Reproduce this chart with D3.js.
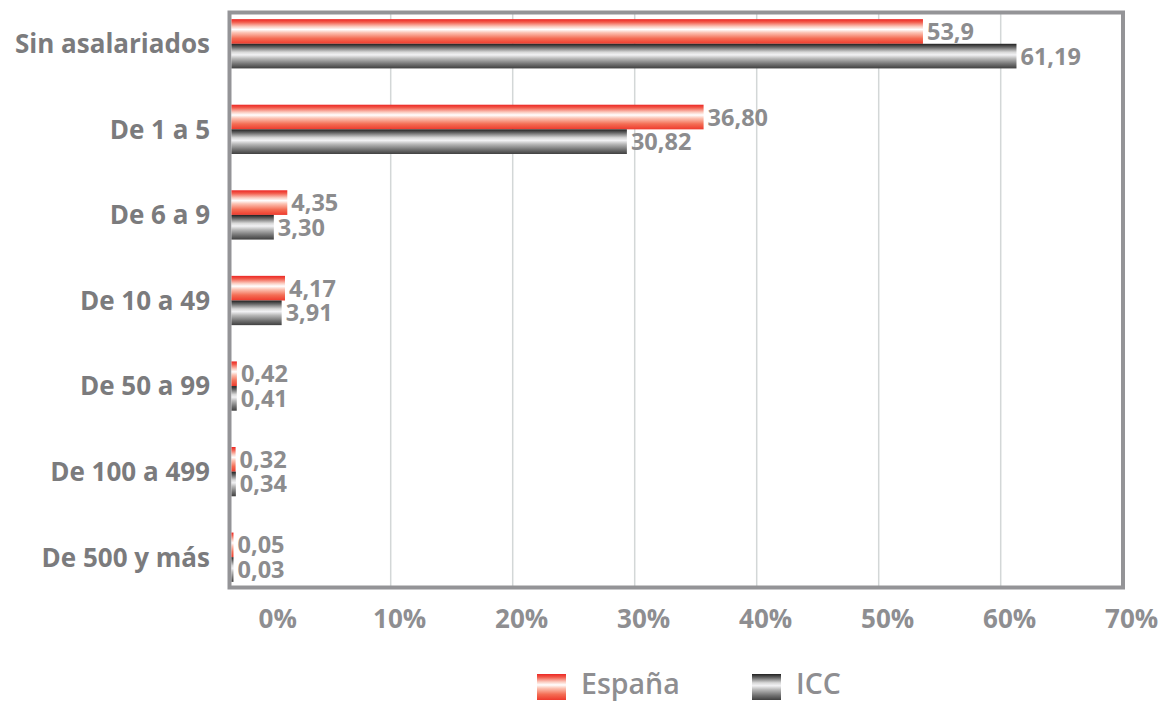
<!DOCTYPE html>
<html>
<head>
<meta charset="utf-8">
<script src="https://cdn.jsdelivr.net/npm/d3@7"></script>
<style>
  html, body { margin: 0; padding: 0; background: #ffffff; }
  svg { display: block; }
</style>
</head>
<body>
<svg id="chart" width="1175" height="703"></svg>
<script>
// ---------- data ----------
const categories = ["Sin asalariados", "De 1 a 5", "De 6 a 9", "De 10 a 49", "De 50 a 99", "De 100 a 499", "De 500 y más"];
const seriesNames = ["España", "ICC"];
const espana = [53.9, 36.80, 4.35, 4.17, 0.42, 0.32, 0.05];
const icc = [61.19, 30.82, 3.30, 3.91, 0.41, 0.34, 0.03];
const espanaLabels = ["53,9", "36,80", "4,35", "4,17", "0,42", "0,32", "0,05"];
const iccLabels = ["61,19", "30,82", "3,30", "3,91", "0,41", "0,34", "0,03"];
const tickValues = [0, 10, 20, 30, 40, 50, 60, 70];
const tickLabels = ["0%", "10%", "20%", "30%", "40%", "50%", "60%", "70%"];

// ---------- layout ----------
const svg = d3.select("#chart");
const frame = { left: 230, right: 1123, top: 12.5, bottom: 587.5 };
const FONT = "'Open Sans', 'DejaVu Sans', sans-serif";

// axis (gridlines / tick labels) scale and bar-length scale
const xAxis = d3.scaleLinear().domain([0, 70]).range([268.7, 1122.7]);
const xBar = d3.scaleLinear().domain([0, 70]).range([231.5, 1129.5]);

const y = d3.scaleBand().domain(categories).range([1, 600]).paddingInner(0.424).paddingOuter(0.212);
const ySub = d3.scaleBand().domain(seriesNames).range([0, y.bandwidth()]);

// ---------- gradients ----------
const defs = svg.append("defs");
function grad(id, stops) {
  const g = defs.append("linearGradient").attr("id", id)
    .attr("x1", 0).attr("y1", 0).attr("x2", 0).attr("y2", 1);
  stops.forEach(s => g.append("stop").attr("offset", s[0]).attr("stop-color", s[1]));
}
grad("gRed", [[0, "#ec2624"], [0.12, "#f25a4a"], [0.3, "#fbc9bd"], [0.42, "#ffffff"], [0.55, "#fcc2b2"], [0.78, "#f46e55"], [1, "#ee3a2d"]]);
grad("gGray", [[0, "#202020"], [0.14, "#666666"], [0.34, "#d8d8d8"], [0.45, "#f2f2f4"], [0.6, "#b8b8b8"], [0.82, "#727272"], [1, "#404040"]]);
const fills = { "España": "url(#gRed)", "ICC": "url(#gGray)" };

// ---------- gridlines ----------
svg.append("g").selectAll("line")
  .data(tickValues.filter(v => v > 0 && v < 70))
  .join("line")
  .attr("x1", d => xAxis(d)).attr("x2", d => xAxis(d))
  .attr("y1", frame.top).attr("y2", frame.bottom)
  .attr("stroke", "#d3d7d7").attr("stroke-width", 1.5);

// ---------- frame ----------
svg.append("rect")
  .attr("x", frame.left - 0.5).attr("y", frame.top)
  .attr("width", frame.right - frame.left + 0.5).attr("height", frame.bottom - frame.top)
  .attr("fill", "none").attr("stroke", "#949497").attr("stroke-width", 4);

// ---------- bars ----------
const rows = categories.map((c, i) => ({
  cat: c,
  vals: [
    { s: "España", v: espana[i], label: espanaLabels[i] },
    { s: "ICC", v: icc[i], label: iccLabels[i] }
  ]
}));

const groups = svg.append("g").selectAll("g")
  .data(rows).join("g")
  .attr("transform", d => `translate(0,${y(d.cat)})`);

groups.selectAll("rect")
  .data(d => d.vals).join("rect")
  .attr("x", xBar(0))
  .attr("y", d => ySub(d.s))
  .attr("width", d => Math.max(2, xBar(d.v) - xBar(0)))
  .attr("height", ySub.bandwidth())
  .attr("fill", d => fills[d.s]);

groups.selectAll("text")
  .data(d => d.vals).join("text")
  .attr("x", d => Math.max(xBar(d.v), xBar(0) + 2) + 4)
  .attr("y", d => ySub(d.s) + ySub.bandwidth() / 2)
  .attr("dy", "0.36em")
  .attr("font-family", FONT).attr("font-weight", 700).attr("font-size", 23.5)
  .attr("fill", "#8c8c8e")
  .text(d => d.label);

// ---------- category labels ----------
svg.append("g").selectAll("text")
  .data(categories).join("text")
  .attr("x", 210)
  .attr("y", d => y(d) + y.bandwidth() / 2)
  .attr("dy", "0.36em")
  .attr("text-anchor", "end")
  .attr("font-family", FONT).attr("font-weight", 700).attr("font-size", 26)
  .attr("fill", "#7b7b7d")
  .text(d => d);

// ---------- x tick labels ----------
svg.append("g").selectAll("text")
  .data(tickValues).join("text")
  .attr("x", d => xAxis(d) + 9)
  .attr("y", 619)
  .attr("dy", "0.36em")
  .attr("text-anchor", "middle")
  .attr("font-family", FONT).attr("font-weight", 700).attr("font-size", 26)
  .attr("fill", "#8e8e91")
  .text((d, i) => tickLabels[i]);

// ---------- legend ----------
const legendX = d3.scalePoint().domain(seriesNames).range([537, 752]);
const lg = svg.append("g").selectAll("g")
  .data(seriesNames).join("g")
  .attr("transform", d => `translate(${legendX(d)},674)`);
lg.append("rect").attr("width", 29).attr("height", 26).attr("fill", d => fills[d]);
lg.append("text")
  .attr("x", 44).attr("y", 10).attr("dy", "0.36em")
  .attr("font-family", FONT).attr("font-weight", 600).attr("font-size", 28.5)
  .attr("fill", "#8e8e91")
  .text(d => d);
</script>
</body>
</html>
